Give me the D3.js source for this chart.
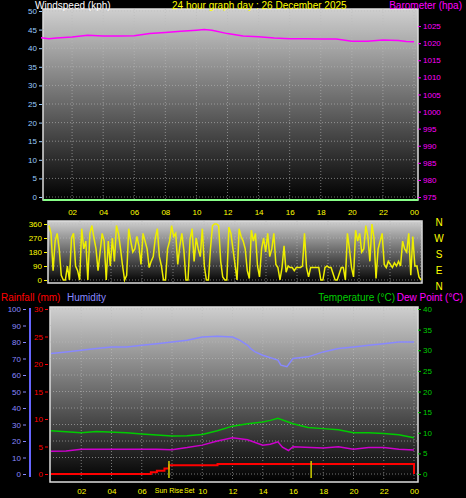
<!DOCTYPE html><html><head><meta charset="utf-8">
<script src="https://cdn.jsdelivr.net/npm/d3@7"></script>
<style>body{margin:0;background:#000}svg{display:block;font-family:"Liberation Sans",Arial,sans-serif}</style></head><body>
<svg id="c" width="466" height="498"></svg>
<script>
const hourTicks=[2,4,6,8,10,12,14,16,18,20,22,24];
const hourLabels=["02","04","06","08","10","12","14","16","18","20","22","00"];
const baroHours=[0,0.5,1,2,3,4,5,6,7,8,9,10,10.5,11,12,13,14,15,16,17,18,19,20,21,22,23,23.5,24];
const baroVals=[1021.6,1021.3,1021.5,1021.8,1022.3,1022.1,1022.1,1022.2,1022.8,1023.1,1023.5,1023.8,1024,1023.8,1022.8,1022.1,1021.9,1021.5,1021.3,1021.3,1021.2,1021.2,1020.6,1020.6,1020.9,1020.8,1020.5,1020.4];
const dirVals=[350,300,60,250,300,200,30,0,0,90,0,270,300,90,60,0,330,200,250,0,300,350,270,200,60,180,300,250,0,250,90,270,120,350,300,200,90,0,30,330,250,180,200,280,220,100,300,250,200,80,120,150,270,330,150,90,0,0,200,250,350,280,300,100,220,300,190,0,0,260,330,120,270,200,150,330,90,0,0,200,350,360,360,350,120,20,0,0,340,300,200,100,0,330,280,250,200,60,10,320,250,300,90,20,200,270,180,300,150,200,300,100,80,0,80,220,50,90,80,80,60,80,80,80,90,300,80,20,80,80,80,80,80,0,0,80,90,80,80,40,0,0,40,80,80,0,300,200,80,20,320,250,300,180,200,350,280,120,360,270,10,200,250,300,100,80,120,100,80,110,90,120,90,250,200,180,300,30,280,90,90,20,0];
const humHours=[0,1,2,3,4,5,6,7,8,9,10,11,12,12.5,13,13.2,13.5,14,15,15.2,15.6,16,17,18,19,20,21,22,23,24];
const humVals=[73,74,75,76,77,77,78,79,80,81,83,83.5,83,81,78,76,74,72,69,66,65,70,71,74,76,77,78,79,80,80];
const tempHours=[0,2,3,5,6,8,9,10,11,12,13,14,14.5,15,16,17,18,19,20,21,22,23,24];
const tempVals=[10.5,10,10.3,10,9.7,9.2,9.3,9.6,10.5,11.6,12.2,12.6,13,13.5,12.2,11.3,11,10.7,10,10,9.8,9.5,8.8];
const dewHours=[0,1,2,3,5,7,8,9,10,11,12,13,14,14.5,15,15.3,15.7,16,18,19,20,21,22,23,24];
const dewVals=[5.5,5.6,6,6,6,6,5.9,6.4,7,8,8.8,8.3,7,7.2,7.8,6.5,5.7,6.6,6.3,6.6,6,6.4,6.4,6,5.8];
const rainHours=[0,6.3,6.6,7,7.5,7.8,11,11.01,24,24];
const rainVals=[0,0,0.3,0.6,1,1.6,1.6,1.8,1.8,0];
const sunMarks=[7.8,17.2];

const svg=d3.select("#c");
const defs=svg.append("defs");
const g=defs.append("linearGradient").attr("id","bg").attr("x1",0).attr("x2",0).attr("y1",0).attr("y2",1);
g.append("stop").attr("offset",0).attr("stop-color","#cfcfcf");
g.append("stop").attr("offset",1).attr("stop-color","#000");

function panel(x0,x1,y0,y1){
  svg.append("rect").attr("x",x0).attr("y",y0).attr("width",x1-x0).attr("height",y1-y0).attr("fill","url(#bg)");
  svg.append("rect").attr("x",x0).attr("y",y0).attr("width",x1-x0).attr("height",y1-y0).attr("fill","none").attr("stroke","#ddd").attr("stroke-width",1.5);
}
function grid(x,y,yt,x0,x1,y0,y1){
  hourTicks.forEach(h=>svg.append("line").attr("x1",x(h)).attr("x2",x(h)).attr("y1",y0).attr("y2",y1).attr("stroke","#bbb").attr("stroke-dasharray","1,2").attr("opacity",0.6));
  yt.forEach(v=>svg.append("line").attr("x1",x0).attr("x2",x1).attr("y1",y(v)).attr("y2",y(v)).attr("stroke","#bbb").attr("stroke-dasharray","1,2").attr("opacity",0.6));
}
function txt(x,y,s,c,a,fs){svg.append("text").attr("x",x).attr("y",y).attr("fill",c).attr("font-size",fs||8).attr("text-anchor",a||"start").text(s);}
function yAxis(scale,ticks,xpos,color,side){
  const ax=(side==="left"?d3.axisLeft(scale):d3.axisRight(scale)).tickValues(ticks).tickFormat(d3.format("d")).tickSize(3).tickPadding(2);
  const gg=svg.append("g").attr("transform",`translate(${xpos},0)`).call(ax);
  gg.select(".domain").remove();
  gg.selectAll("line").attr("stroke",color);
  gg.selectAll("text").attr("fill",color).attr("font-size",8).attr("font-family","Liberation Sans,Arial");
}
function xAxis(x,y,skip){
  const ticks=hourTicks.filter(h=>h!==skip);
  const gg=svg.append("g").attr("transform",`translate(0,${y})`).call(d3.axisBottom(x).tickValues(ticks).tickFormat(d=>hourLabels[hourTicks.indexOf(d)]).tickSize(0).tickPadding(5));
  gg.select(".domain").remove();
  gg.selectAll("text").attr("fill","#ff0").attr("font-size",8).attr("font-family","Liberation Sans,Arial");
}

{
const x=d3.scaleLinear().domain([0,24]).range([41,414]);
const y=d3.scaleLinear().domain([0,50]).range([197,11]);
const yb=d3.scaleLinear().domain([975,1030]).range([197,9]);
panel(43,418,9,200);
grid(x,y,d3.range(0,51,5),43,418,9,200);
svg.append("line").attr("x1",43).attr("x2",418).attr("y1",200).attr("y2",200).attr("stroke","#8f8").attr("stroke-width",2);
yAxis(y,d3.range(0,51,5),42,"#9cf","left");
yAxis(yb,d3.range(975,1026,5),418,"#f0f","right");
xAxis(x,204);
svg.append("path").datum(baroHours.map((h,i)=>[h,baroVals[i]])).attr("d",d3.line().x(d=>x(d[0])).y(d=>yb(d[1]))).attr("fill","none").attr("stroke","#f0f").attr("stroke-width",1.5);
txt(35,9,"Windspeed (kph)","#fff","start",10);
txt(172,9,"24 hour graph day : 26 December 2025","#ff0","start",10);
txt(462,9,"Barometer (hpa)","#f0f","end",10);
}
{
const x=d3.scaleLinear().domain([0,24]).range([49,421]);
const y=d3.scaleLinear().domain([0,360]).range([280,224]);
panel(48,422,221,283);
grid(x,y,[0,90,180,270,360],48,422,221,283);
yAxis(y,[0,90,180,270,360],47,"#ff0","left");
const n=dirVals.length;
svg.append("path").datum(dirVals).attr("d",d3.line().x((d,i)=>x(i*24/(n-1))).y(d=>y(d))).attr("fill","none").attr("stroke","#ee0").attr("stroke-width",1.5);
["N","W","S","E","N"].forEach((s,i)=>txt(439,226+i*16,s,"#ff0","middle",10));
}
{
const x=d3.scaleLinear().domain([0,24]).range([51,414]);
const yh=d3.scaleLinear().domain([0,100]).range([474,309]);
const yr=d3.scaleLinear().domain([0,30]).range([474,309]);
const yt=d3.scaleLinear().domain([0,40]).range([474,309]);
panel(50,418,307,482);
grid(x,yh,d3.range(0,101,10),50,418,307,482);
svg.append("line").attr("x1",30).attr("x2",30).attr("y1",308).attr("y2",477).attr("stroke","#66f").attr("stroke-width",2);
yAxis(yh,d3.range(0,101,10),26,"#88f","left");
yAxis(yr,d3.range(0,31,5),48,"#f00","left");
yAxis(yt,d3.range(0,41,5),418,"#0c0","right");
xAxis(x,483,8);
const L=(hs,vs,sc,c)=>svg.append("path").datum(hs.map((h,i)=>[h,vs[i]])).attr("d",d3.line().x(d=>x(d[0])).y(d=>sc(d[1]))).attr("fill","none").attr("stroke",c).attr("stroke-width",1.5);
L(humHours,humVals,yh,"#88f");
L(tempHours,tempVals,yt,"#0c0");
L(dewHours,dewVals,yt,"#c0c");
svg.append("path").datum(rainHours.map((h,i)=>[h,rainVals[i]])).attr("d",d3.line().curve(d3.curveStepAfter).x(d=>x(d[0])).y(d=>yr(d[1]))).attr("fill","none").attr("stroke","#f00").attr("stroke-width",2);
sunMarks.forEach(h=>svg.append("line").attr("x1",x(h)).attr("x2",x(h)).attr("y1",461).attr("y2",478).attr("stroke","#cc0").attr("stroke-width",1.5));
txt(x(sunMarks[0]),493,"Sun Rise","#ff0","middle",7);
txt(x(sunMarks[0])+15,493,"Set","#ff0","start",7);
txt(1,301,"Rainfall (mm)","#f00","start",10);
txt(67,301,"Humidity","#88f","start",10);
txt(463,301,"Dew Point (°C)","#f0f","end",10);
txt(395,301,"Temperature (°C)","#0c0","end",10);
}
</script></body></html>
